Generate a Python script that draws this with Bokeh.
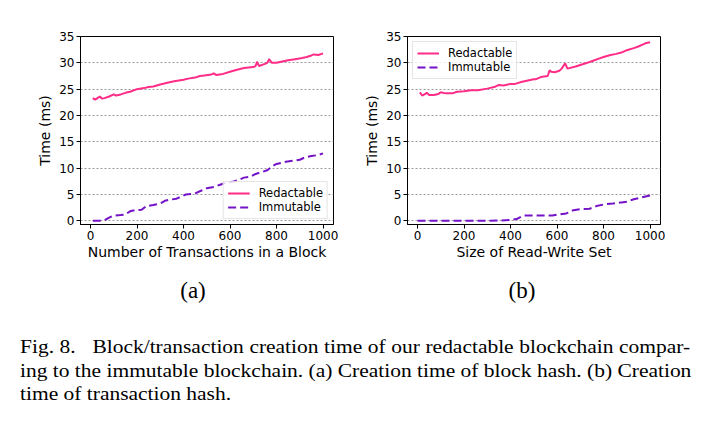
from bokeh.plotting import figure
from bokeh.layouts import column, row
from bokeh.models import Div, FixedTicker, Range1d, Legend, LegendItem
from bokeh.embed import file_html
from bokeh.resources import INLINE

# ---------------- data ----------------
# (a) Number of transactions in a block
a_red_x = [10, 20, 30, 40, 50, 60, 80, 100, 110, 130, 150, 170, 200, 230, 250, 270, 300, 330, 360, 400,
           420, 450, 470, 490, 520, 530, 540, 570, 600, 630, 660, 680, 700, 710, 716, 725, 750, 760, 768,
           780, 800, 820, 850, 880, 910, 930, 950, 960, 980, 1000]
a_red_y = [23.3, 23.0, 23.3, 23.6, 23.2, 23.3, 23.6, 24.0, 23.8, 24.0, 24.3, 24.5, 25.0, 25.2, 25.4, 25.5,
           25.9, 26.2, 26.5, 26.8, 27.0, 27.2, 27.5, 27.6, 27.8, 28.0, 27.7, 27.9, 28.3, 28.7, 29.0, 29.1,
           29.2, 29.4, 30.2, 29.4, 29.8, 30.0, 30.7, 30.0, 30.0, 30.2, 30.5, 30.7, 30.9, 31.1, 31.4, 31.6,
           31.5, 31.8]
a_imm_x = [10, 30, 50, 60, 80, 100, 130, 150, 170, 190, 220, 240, 270, 300, 320, 340, 370, 390, 410, 450,
           480, 500, 530, 560, 580, 610, 640, 660, 690, 710, 740, 760, 780, 800, 820, 840, 870, 900, 920,
           950, 980, 1000]
a_imm_y = [0.0, 0.0, 0.0, 0.1, 0.6, 1.0, 1.1, 1.2, 1.8, 2.0, 2.1, 2.8, 3.0, 3.3, 3.8, 4.0, 4.2, 4.6, 5.0,
           5.2, 5.8, 6.2, 6.4, 6.9, 7.2, 7.4, 7.8, 8.2, 8.4, 8.9, 9.3, 9.6, 10.3, 10.8, 11.0, 11.2, 11.4,
           11.6, 12.0, 12.3, 12.5, 12.8]

# (b) Size of read-write set
b_red_x = [10, 20, 30, 40, 50, 70, 90, 100, 120, 150, 170, 200, 230, 260, 300, 330, 350, 370, 400, 420,
           450, 480, 500, 510, 530, 560, 568, 575, 590, 610, 620, 635, 645, 680, 700, 730, 755, 780, 800,
           830, 855, 880, 900, 930, 950, 970, 980, 1000]
b_red_y = [24.4, 23.8, 24.0, 24.3, 23.9, 23.9, 24.1, 24.4, 24.2, 24.2, 24.5, 24.6, 24.8, 24.8, 25.1, 25.4,
           25.8, 25.7, 26.0, 26.0, 26.4, 26.7, 26.9, 26.9, 27.3, 27.5, 28.6, 28.3, 28.2, 28.5, 28.9, 29.9,
           28.9, 29.3, 29.6, 30.0, 30.4, 30.8, 31.1, 31.5, 31.7, 32.0, 32.4, 32.8, 33.1, 33.5, 33.7, 33.9]
b_imm_x = [0, 50, 100, 150, 200, 250, 300, 350, 400, 430, 450, 460, 500, 550, 580, 605, 640, 670, 700,
           740, 770, 800, 840, 877, 900, 930, 960, 1000]
b_imm_y = [0.0, 0.0, 0.0, 0.0, 0.0, 0.0, 0.0, 0.05, 0.15, 0.4, 0.9, 1.0, 1.0, 1.0, 1.0, 1.2, 1.4, 2.0,
           2.2, 2.3, 2.8, 3.1, 3.3, 3.5, 3.6, 4.1, 4.4, 4.8]

x_ticks = [0, 200, 400, 600, 800, 1000]
y_ticks = [0, 5, 10, 15, 20, 25, 30, 35]

RED = "#ff2d87"
PUR = "#7412c8"
FONT = "DejaVu Sans"


def make_fig(xlabel, min_left, min_right, legend_loc, rx, ry, ix, iy):
    p = figure(frame_width=253, frame_height=188, output_backend="svg", toolbar_location=None,
               min_border_left=min_left, min_border_right=min_right, min_border_top=36,
               min_border_bottom=44, x_range=Range1d(-43, 1045), y_range=Range1d(-0.7, 35),
               background_fill_color="white", border_fill_color="white")
    r1 = p.line(rx, ry, line_color=RED, line_width=2)
    r2 = p.line(ix, iy, line_color=PUR, line_width=2, line_dash="8 4")
    p.outline_line_color = "black"
    p.outline_line_width = 1
    p.outline_line_alpha = 1
    p.xgrid.visible = False
    p.ygrid.grid_line_color = "#9a9a9a"
    p.ygrid.grid_line_dash = "2 2"
    p.ygrid.grid_line_width = 1
    p.xaxis.ticker = FixedTicker(ticks=x_ticks)
    p.yaxis.ticker = FixedTicker(ticks=y_ticks)
    p.ygrid.ticker = FixedTicker(ticks=y_ticks)
    for ax in (p.xaxis[0], p.yaxis[0]):
        ax.axis_line_color = "black"
        ax.major_tick_line_color = "black"
        ax.major_tick_in = 0
        ax.major_tick_out = 4
        ax.minor_tick_line_color = None
        ax.major_label_text_font = FONT
        ax.major_label_text_font_size = "12px"
        ax.major_label_text_color = "black"
        ax.major_label_standoff = 2
        ax.axis_label_text_font = FONT
        ax.axis_label_text_font_size = "14px"
        ax.axis_label_text_font_style = "normal"
        ax.axis_label_text_color = "black"
    p.xaxis.axis_label = xlabel
    p.yaxis.axis_label = "Time (ms)"
    p.xaxis.axis_label_standoff = 1
    p.yaxis.axis_label_standoff = 3
    leg = Legend(items=[LegendItem(label="Redactable", renderers=[r1]),
                        LegendItem(label="Immutable", renderers=[r2])],
                 location=legend_loc, margin=5, padding=4, spacing=0,
                 glyph_width=22, glyph_height=14, label_height=14, label_standoff=9,
                 label_text_font=FONT, label_text_font_size="11.5px", label_text_color="black",
                 border_line_color="#cccccc", border_line_width=1,
                 background_fill_color="white", background_fill_alpha=0.8)
    p.add_layout(leg, "center")
    return p


pa = make_fig("Number of Transactions in a Block", 80, 22, "bottom_right",
              a_red_x, a_red_y, a_imm_x, a_imm_y)
pb = make_fig("Size of Read-Write Set", 52, 52, "top_left",
              b_red_x, b_red_y, b_imm_x, b_imm_y)

sub_a = "(a)"
sub_b = "(b)"
cap1 = "Fig. 8.&nbsp;&nbsp;&nbsp;Block/transaction creation time of our redactable blockchain compar-"
cap2 = "ing to the immutable blockchain. (a) Creation time of block hash. (b) Creation"
cap3 = "time of transaction hash."

serif = "'Liberation Serif', 'Times New Roman', serif"
line_style = ("position:absolute;left:20px;width:593px;font-size:19px;line-height:23.5px;"
              "transform:scaleX(1.13);transform-origin:0 0;white-space:nowrap;")
html = f"""
<div style="position:relative;width:712px;height:167px;font-family:{serif};color:#000;background:white;overflow:hidden;">
  <div style="position:absolute;left:143px;top:11px;width:100px;text-align:center;font-size:23px;line-height:23px;">{sub_a}</div>
  <div style="position:absolute;left:472px;top:11px;width:100px;text-align:center;font-size:23px;line-height:23px;">{sub_b}</div>
  <div style="{line_style}top:67px;text-align:justify;text-align-last:justify;">{cap1}</div>
  <div style="{line_style}top:90.5px;text-align:justify;text-align-last:justify;">{cap2}</div>
  <div style="{line_style}top:114px;text-align:left;">{cap3}</div>
</div>
"""
div = Div(text=html, width=712, height=167, margin=0)

layout = column(row(pa, pb, spacing=0), div, spacing=0)
open("out.html", "w").write(file_html(layout, INLINE))
